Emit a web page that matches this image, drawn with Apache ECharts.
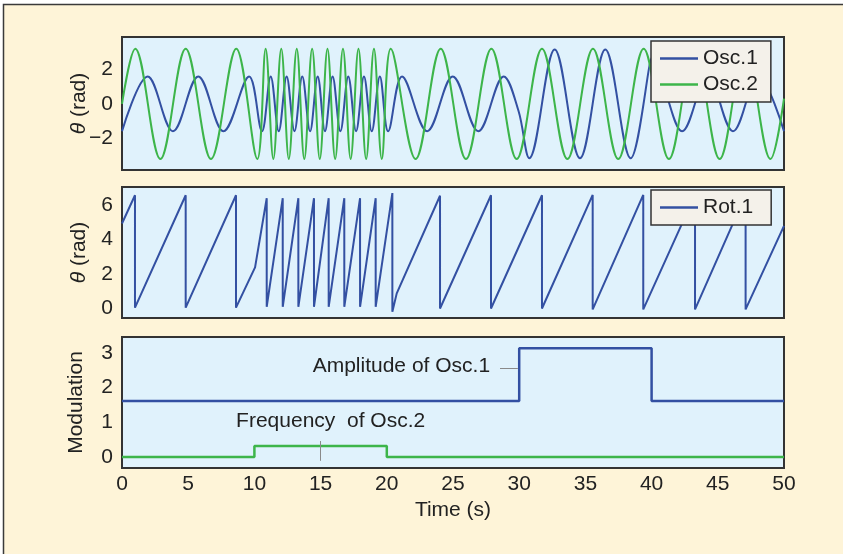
<!DOCTYPE html>
<html><head><meta charset="utf-8">
<script src="https://cdn.jsdelivr.net/npm/echarts@6/dist/echarts.min.js"></script>
<style>html,body{margin:0;padding:0;background:#fff}#c{width:843px;height:554px}</style>
</head><body><div id="c"></div>
<script>
// ---- tick labels ----
const timeTicks = [0, 5, 10, 15, 20, 25, 30, 35, 40, 45, 50];
const thetaTicks = [-2, 0, 2];
const rotTicks = [0, 2, 4, 6];
const modTicks = [0, 1, 2, 3];

// ---- series values [time (s), value] (peaks / troughs / corners) ----
const osc1 = [[0,-1.6],[1.94,1.6],[3.85,-1.6],[5.76,1.6],[7.66,-1.6],[9.6,1.6],[10.57,-1.6],[11.23,1.6],[11.84,-1.6],[12.435,1.6],[13.025,-1.6],[13.615,1.6],[14.205,-1.6],[14.78,1.6],[15.33,-1.6],[15.905,1.6],[16.495,-1.6],[17.09,1.6],[17.68,-1.6],[18.275,1.6],[18.865,-1.6],[19.475,1.6],[20.1,-1.6],[21.15,1.6],[23.05,-1.6],[24.98,1.6],[26.91,-1.6],[28.83,1.6],[29.95,-0.42],[30.76,-3.17],[32.68,3.17],[34.59,-3.17],[36.505,3.17],[38.415,-3.17],[40.0,2.67],[40.05,1.42],[40.35,1.6],[42.3,-1.6],[44.235,1.6],[46.145,-1.6],[48.055,1.6],[50,-1.6]];
const osc2 = [[0,0],[1.0,3.22],[2.9,-3.22],[4.81,3.22],[6.72,-3.22],[8.63,3.22],[10.22,-3.22],[10.85,3.22],[11.43,-3.22],[12.03,3.22],[12.6,-3.22],[13.2,3.22],[13.77,-3.22],[14.36,3.22],[14.94,-3.22],[15.52,3.22],[16.1,-3.22],[16.69,3.22],[17.27,-3.22],[17.86,3.22],[18.44,-3.22],[19.03,3.22],[19.62,-3.22],[20.3,3.22],[22.18,-3.22],[24.07,3.22],[25.98,-3.22],[27.9,3.22],[29.81,-3.22],[31.72,3.22],[33.64,-3.22],[35.57,3.22],[37.48,-3.22],[39.4,3.22],[41.31,-3.22],[43.23,3.22],[45.14,-3.22],[47.06,3.22],[48.98,-3.22],[50,0.3]];
const rot1 = [[0,4.94],[0.98,6.58],[0.98,0.05],[4.81,6.58],[4.81,0.05],[8.61,6.58],[8.61,0.05],[10.05,2.39],[10.93,6.41],[10.93,0.1],[12.14,6.41],[12.14,0.1],[13.32,6.41],[13.32,0.1],[14.5,6.41],[14.5,0.1],[15.61,6.41],[15.61,0.1],[16.79,6.41],[16.79,0.1],[17.98,6.41],[17.98,0.1],[19.16,6.41],[19.16,0.1],[20.42,6.71],[20.42,-0.19],[20.75,0.88],[24.02,6.55],[24.02,0],[27.87,6.58],[27.87,0],[31.72,6.58],[31.72,0],[35.55,6.6],[35.55,-0.05],[39.37,6.6],[39.37,-0.05],[43.28,6.6],[43.28,-0.05],[47.1,6.6],[47.1,-0.05],[50,4.8]];
const ampMod = [[0,1.615],[30,1.615],[30,3.135],[40,3.135],[40,1.615],[50,1.615]];
const freqMod = [[0,0],[10,0],[10,0.32],[20,0.32],[20,0],[50,0]];

// ---- styles ----
const FONT = "'Liberation Sans', Arial, Helvetica, sans-serif";
const FS = 21;
const BLUE = '#3350a2';
const GREEN = '#3db54a';
const TXT = '#222222';
const PLOT_BG = '#e0f2fc';
const OUTER_BG = '#fef4d8';
const SMOOTH = 0.36;
const minus = v => (v < 0 ? '\u2212' + Math.abs(v) : String(v));

const chart = echarts.init(document.getElementById('c'), null, {renderer: 'canvas'});

const gridBase = {left: 122, width: 662, show: true, backgroundColor: PLOT_BG, borderColor: '#333', borderWidth: 2, containLabel: false};
const xBase = (i, showLabel) => ({
  type: 'value', gridIndex: i, min: 0, max: 50, interval: 5,
  axisLine: {show: false}, axisTick: {show: false}, splitLine: {show: false},
  axisLabel: {show: showLabel, fontFamily: FONT, fontSize: FS, color: TXT, margin: 6,
    customValues: timeTicks}
});
const yBase = (i, min, max, ticks, name, gap) => ({
  type: 'value', gridIndex: i, min: min, max: max,
  axisLine: {show: false}, axisTick: {show: false}, splitLine: {show: false},
  axisLabel: {fontFamily: FONT, fontSize: FS, color: TXT, margin: 9, customValues: ticks, formatter: minus},
  name: name, nameLocation: 'middle', nameGap: gap, nameMoveOverlap: false,
  nameTextStyle: {fontFamily: FONT, fontSize: FS, color: TXT, rich: {i: {fontStyle: 'italic', fontFamily: FONT, fontSize: FS, color: TXT}}}
});
const legendBase = {
  orient: 'vertical', left: 651, icon: 'rect', itemWidth: 38, itemHeight: 2.5, itemGap: 5,
  backgroundColor: '#f4f1ea', borderColor: '#333', borderWidth: 1.5, selectedMode: false,
  textStyle: {fontFamily: FONT, fontSize: FS, color: TXT, lineHeight: 20}
};

const option = {
  animation: false,
  backgroundColor: OUTER_BG,
  grid: [
    Object.assign({top: 37, height: 133}, gridBase),
    Object.assign({top: 187, height: 131}, gridBase),
    Object.assign({top: 337, height: 131}, gridBase)
  ],
  xAxis: [
    xBase(0, false), xBase(1, false),
    Object.assign(xBase(2, true), {name: 'Time (s)', nameLocation: 'middle', nameGap: 32,
      nameTextStyle: {fontFamily: FONT, fontSize: FS, color: TXT}})
  ],
  yAxis: [
    yBase(0, -3.86, 3.9, thetaTicks, '{i|θ} (rad)', 32),
    yBase(1, -0.55, 7.06, rotTicks, '{i|θ} (rad)', 32),
    yBase(2, -0.317, 3.46, modTicks, 'Modulation', 35)
  ],
  legend: [
    Object.assign({top: 41, padding: [7, 13, 7, 9], data: ['Osc.1', 'Osc.2']}, legendBase),
    Object.assign({top: 190, padding: [7, 18, 7, 9], data: ['Rot.1']}, legendBase)
  ],
  series: [
    {name: 'Osc.1', type: 'line', xAxisIndex: 0, yAxisIndex: 0, data: osc1, smooth: SMOOTH,
      showSymbol: false, color: BLUE, lineStyle: {color: BLUE, width: 2}},
    {name: 'Osc.2', type: 'line', xAxisIndex: 0, yAxisIndex: 0, data: osc2, smooth: SMOOTH,
      showSymbol: false, color: GREEN, lineStyle: {color: GREEN, width: 2}},
    {name: 'Rot.1', type: 'line', xAxisIndex: 1, yAxisIndex: 1, data: rot1,
      showSymbol: false, color: BLUE, lineStyle: {color: BLUE, width: 2}},
    {name: 'Amplitude of Osc.1', type: 'line', xAxisIndex: 2, yAxisIndex: 2, data: ampMod,
      showSymbol: false, color: BLUE, lineStyle: {color: BLUE, width: 2.5},
      markLine: {silent: true, symbol: 'none', label: {show: false}, animation: false,
        lineStyle: {color: '#8a8a8a', width: 1, type: 'solid'},
        data: [[{coord: [28.55, 2.56]}, {coord: [29.9, 2.56]}]]}},
    {name: 'Frequency of Osc.2', type: 'line', xAxisIndex: 2, yAxisIndex: 2, data: freqMod,
      showSymbol: false, color: GREEN, lineStyle: {color: GREEN, width: 2.5},
      markLine: {silent: true, symbol: 'none', label: {show: false}, animation: false,
        lineStyle: {color: '#8a8a8a', width: 1, type: 'solid'},
        data: [[{coord: [15, 0.46]}, {coord: [15, -0.11]}]]}}
  ]
};
chart.setOption(option);

// annotation texts anchored in data space of the bottom panel
const ampPos = chart.convertToPixel({gridIndex: 2}, [27.8, 2.62]);
const freqPos = chart.convertToPixel({gridIndex: 2}, [15.76, 1.02]);
chart.setOption({
  graphic: [
    {type: 'rect', shape: {x: 0, y: 0, width: 843, height: 4}, style: {fill: '#ffffff'}, silent: true},
    {type: 'rect', shape: {x: 0, y: 0, width: 3, height: 554}, style: {fill: '#ffffff'}, silent: true},
    {type: 'polyline', shape: {points: [[3.5, 554], [3.5, 4.5], [843, 4.5]]}, style: {stroke: '#3a3a3a', lineWidth: 1.5, fill: null}, silent: true},
    {type: 'text', x: ampPos[0], y: ampPos[1], silent: true,
      style: {text: 'Amplitude of Osc.1', fontFamily: FONT, fontSize: FS, fill: TXT, align: 'right', verticalAlign: 'middle'}},
    {type: 'text', x: freqPos[0], y: freqPos[1], silent: true,
      style: {text: 'Frequency  of Osc.2', fontFamily: FONT, fontSize: FS, fill: TXT, align: 'center', verticalAlign: 'middle'}}
  ]
});
</script>
</body></html>
